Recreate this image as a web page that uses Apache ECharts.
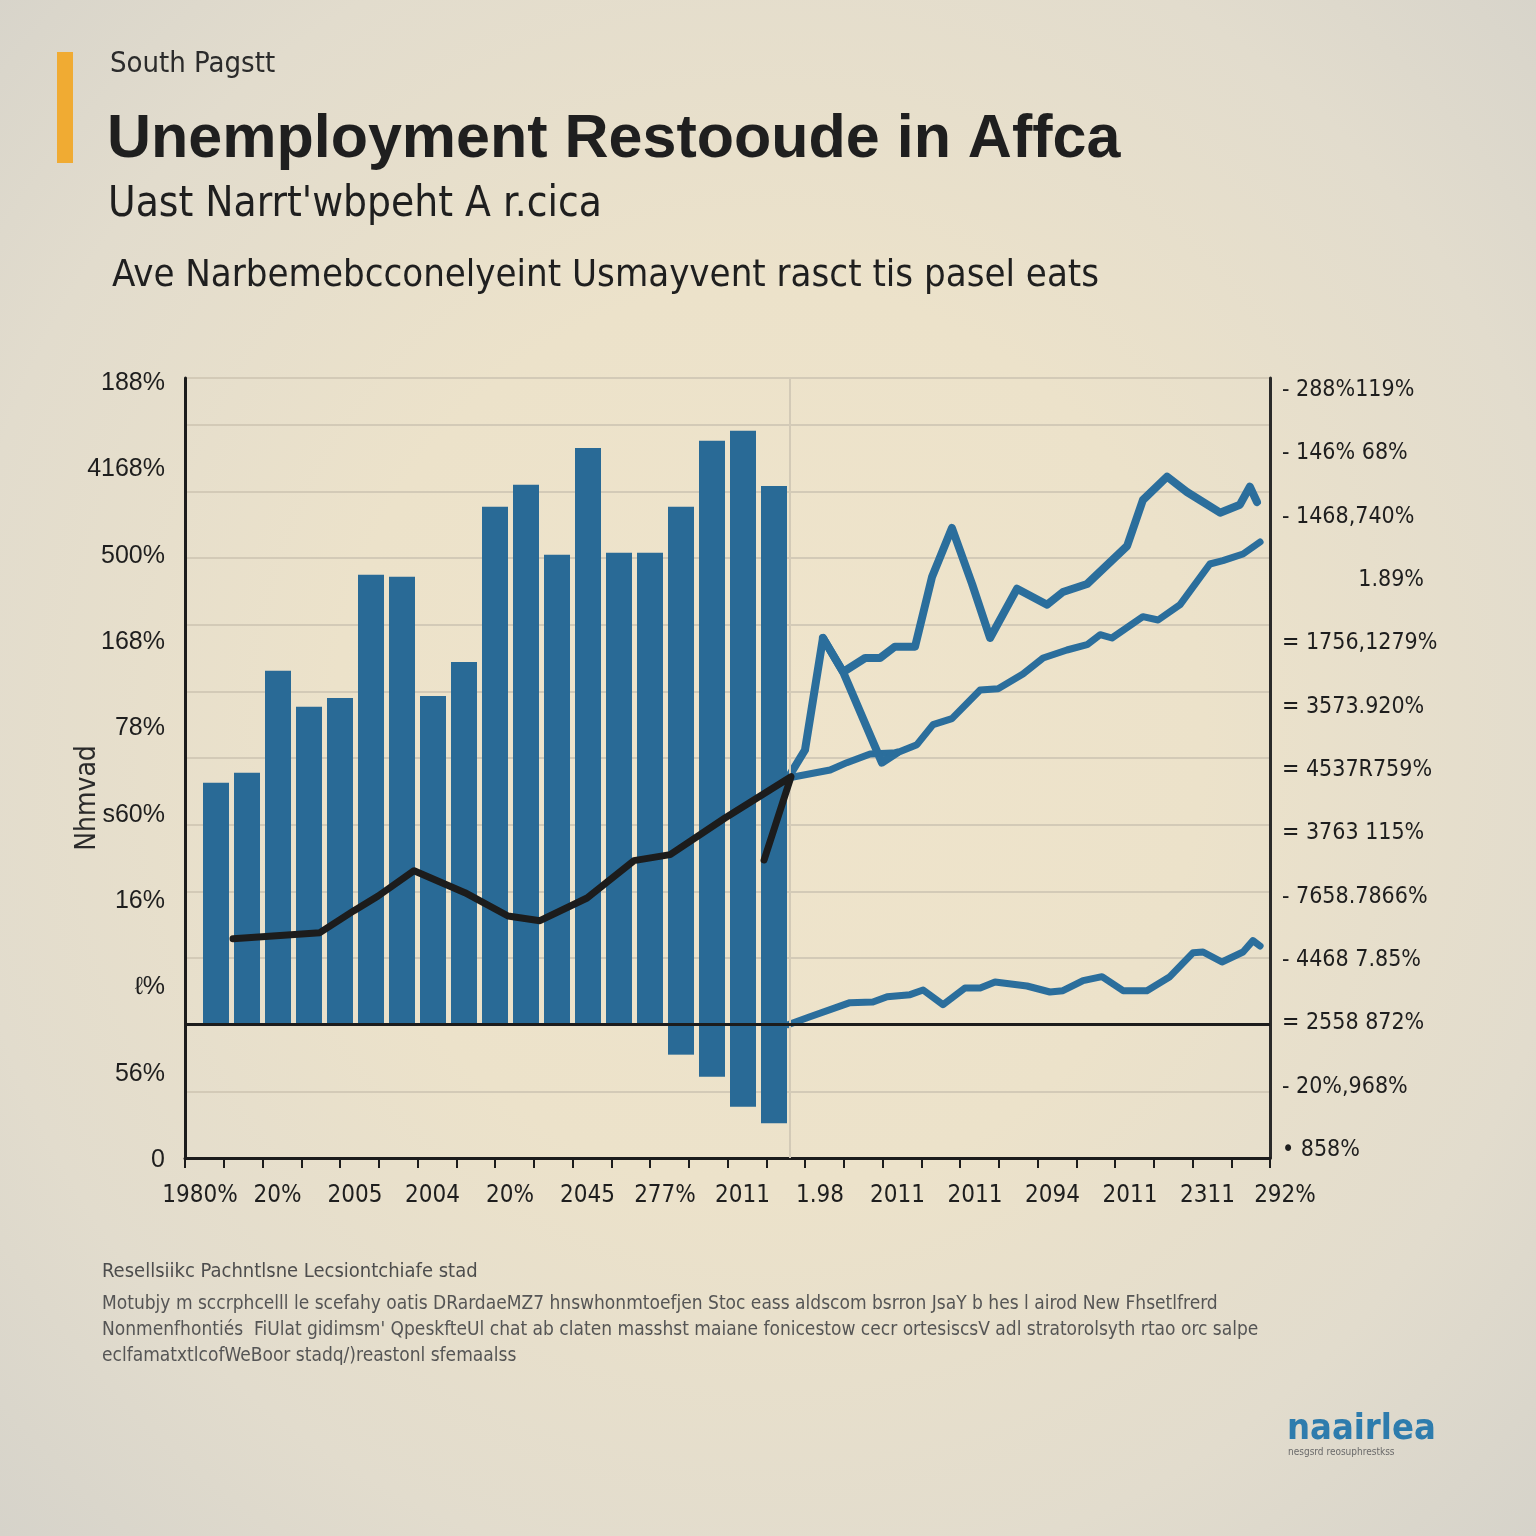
<!DOCTYPE html>
<html>
<head>
<meta charset="utf-8">
<script src="https://cdn.jsdelivr.net/npm/echarts@6/dist/echarts.min.js"></script>
<style>
html,body{margin:0;padding:0;width:1536px;height:1536px;overflow:hidden;
background:radial-gradient(ellipse at 50% 48%, #efe4cb 0%, #ece2ca 40%, #e2dccd 75%, #d6d3ca 100%);}
#chart{width:1536px;height:1536px;}
</style>
</head>
<body>
<div id="chart"></div>
<script>
// ---------- DATA ----------
const barPositions = [1,2,3,4,5,6,7,8,9,10,11,12,13,14,15,16,17,18,19];
const barValues = [36.3,37.8,53.1,47.7,49.0,67.5,67.2,49.3,54.4,77.7,81.0,70.5,86.5,70.8,70.8,77.7,87.6,89.1,80.8];
const negBarPositions = [16,17,18,19];
const negBarValues = [-4.5,-7.8,-12.3,-14.8];

const blackLine = [[1.55,12.9],[4.35,13.8],[5.45,17.1],[6.23,19.3],[7.39,23.1],[9.03,19.8],[10.42,16.3],[11.45,15.6],[12.97,19.0],[14.48,24.6],[15.65,25.5],[17.42,31.0],[19.55,37.2],[18.68,24.7]];
const upperLine = [[19.45,37.0],[20.0,41.2],[20.58,58.0],[21.23,52.9],[21.94,55.0],[22.42,55.0],[22.90,56.7],[23.55,56.7],[24.10,67.2],[24.74,74.5],[25.39,66.1],[25.97,58.0],[26.84,65.4],[27.81,63.0],[28.32,64.9],[29.10,66.1],[30.39,71.8],[30.90,78.7],[31.68,82.2],[32.32,79.9],[33.39,76.8],[34.03,78.0],[34.35,80.7],[34.58,78.4]];
const spikeDrop = [[20.58,58.0],[21.23,52.9],[22.48,39.3],[22.97,40.8]];
const middleLine = [[19.45,37.0],[20.81,38.2],[21.35,39.3],[22.10,40.6],[22.97,40.8],[23.61,42.0],[24.13,45.0],[24.74,45.9],[25.65,50.2],[26.23,50.4],[27.03,52.6],[27.68,55.0],[28.45,56.2],[29.10,57.0],[29.52,58.5],[29.90,58.0],[30.90,61.2],[31.39,60.7],[32.10,63.0],[33.06,69.1],[33.48,69.6],[34.13,70.6],[34.68,72.4]];
const lowerLine = [[19.45,0],[20.16,1.2],[21.45,3.3],[22.19,3.4],[22.65,4.2],[23.39,4.5],[23.81,5.2],[24.45,3.0],[25.16,5.5],[25.65,5.5],[26.13,6.4],[27.16,5.8],[27.90,4.9],[28.32,5.1],[28.97,6.6],[29.58,7.2],[30.26,5.1],[31.03,5.1],[31.77,7.2],[32.52,10.8],[32.84,10.9],[33.45,9.4],[34.13,10.9],[34.45,12.6],[34.68,11.8]];

const xTickLabels = ["1980%","20%","2005","2004","20%","2045","277%","2011","1.98","2011","2011","2094","2011","2311","292%"];
const leftTickLabels = ["0","56%","ℓ%","16%","s60%","78%","168%","500%","4168%","188%"];
const rightTickLabels = ["• 858%","- 20%,968%","= 2558 872%","- 4468 7.85%","- 7658.7866%","= 3763 115%","= 4537R759%","= 3573.920%","= 1756,1279%","1.89%","- 1468,740%","- 146% 68%","- 288%119%"];

const titleKicker = "South Pagstt";
const titleMain = "Unemployment Restooude in Affca";
const subtitle1 = "Uast Narrt'wbpeht A r.cica";
const subtitle2 = "Ave Narbemebcconelyeint Usmayvent rasct tis pasel eats";
const yAxisName = "Nhmvad";
const noteHead = "Resellsiikc Pachntlsne Lecsiontchiafe stad";
const noteLines = [
 "Motubjy m sccrphcelll le scefahy oatis DRardaeMZ7 hnswhonmtoefjen Stoc eass aldscom bsrron JsaY b hes l airod New Fhsetlfrerd",
 "Nonmenfhontiés  FiUlat gidimsm' QpeskfteUl chat ab claten masshst maiane fonicestow cecr ortesiscsV adl stratorolsyth rtao orc salpe",
 "eclfamatxtlcofWeBoor stadq/)reastonl sfemaalss"
];
const logoText = "naairlea";
const logoSub = "nesgsrd reosuphrestkss";

// ---------- CHART ----------
const NARROW = "'Liberation Sans Narrow','DejaVu Sans Condensed','Roboto Condensed',sans-serif";
const BLUE = '#296a96';
const LINEBLUE = '#2b6e9c';
const GRIDC = '#d3cab7';

const catData = [];
for (let i = 0; i < 29; i++) catData.push(i % 2 === 0 ? xTickLabels[i/2] : '');

const chart = echarts.init(document.getElementById('chart'), null, {renderer:'canvas'});
const option = {
  animation: false,
  backgroundColor: 'transparent',
  grid: [
    {left:185, right:266, top:378, bottom:378},
    {left:185, right:266, top:383, bottom:376},
    {left:185, right:266, top:390, bottom:386}
  ],
  xAxis: [
    {type:'value', gridIndex:0, min:0, max:35, position:'bottom',
     axisLine:{show:true, onZero:false, lineStyle:{color:'#1c1c1c', width:3}}, axisTick:{show:false}, axisLabel:{show:false}, splitLine:{show:false}},
    {type:'category', gridIndex:0, position:'bottom', boundaryGap:false, data:catData,
     axisLine:{show:false, onZero:false}, axisTick:{show:true, interval:0, length:10, lineStyle:{color:'#1c1c1c', width:2}},
     axisLabel:{interval:0, margin:26, fontSize:24, color:'#1e1e1e', fontFamily:NARROW, padding:[0,0,0,30]}, splitLine:{show:false}},
    {type:'value', gridIndex:1, show:false, min:0, max:1},
    {type:'value', gridIndex:2, show:false, min:0, max:1}
  ],
  yAxis: [
    {type:'value', gridIndex:0, position:'left', min:-20, max:97, interval:10,
     axisLine:{show:true, onZero:false, lineStyle:{color:'#1c1c1c', width:3}}, axisTick:{show:false}, axisLabel:{show:false},
     splitLine:{show:true, lineStyle:{color:GRIDC, width:2}}},
    {type:'value', gridIndex:0, position:'right', min:-20, max:97, interval:10,
     axisLine:{show:true, onZero:false, lineStyle:{color:'#2a2a2a', width:3}}, axisTick:{show:false}, axisLabel:{show:false}, splitLine:{show:false}},
    {type:'value', gridIndex:1, position:'left', min:0, max:9, interval:1,
     axisLine:{show:false}, axisTick:{show:false}, splitLine:{show:false},
     axisLabel:{margin:20, fontSize:25, color:'#1e1e1e', fontFamily:"'Liberation Sans','Arimo',sans-serif",
       formatter:(v)=> leftTickLabels[Math.round(v)] || ''}},
    {type:'value', gridIndex:2, position:'right', min:0, max:12, interval:1,
     axisLine:{show:false}, axisTick:{show:false}, splitLine:{show:false},
     axisLabel:{margin:12, fontSize:23, color:'#1e1e1e', fontFamily:NARROW,
       formatter:(v)=>{const i=Math.round(v); return i===9 ? '{r|'+rightTickLabels[i]+'}' : rightTickLabels[i];},
       rich:{r:{width:142, align:'right', fontSize:23, fontFamily:NARROW, color:'#1e1e1e'}}}}
  ],
  series: [
    {type:'line', xAxisIndex:0, yAxisIndex:0, data:[], z:1, silent:true,
     markLine:{symbol:'none', silent:true, label:{show:false}, lineStyle:{color:GRIDC, width:2, type:'solid'},
       data:[{xAxis:19.5}]}},
    {type:'bar', name:'pos', xAxisIndex:0, yAxisIndex:0, stack:'b', barWidth:26, z:2,
     itemStyle:{color:BLUE}, data: barPositions.map((x,i)=>[x, barValues[i]])},
    {type:'bar', name:'neg', xAxisIndex:0, yAxisIndex:0, stack:'b', barWidth:26, z:2,
     itemStyle:{color:BLUE}, data: negBarPositions.map((x,i)=>[x, negBarValues[i]]),
     markLine:{symbol:'none', silent:true, label:{show:false}, lineStyle:{color:'#1c1c1c', width:3, type:'solid'},
       data:[{yAxis:0}]}},
    {type:'line', xAxisIndex:0, yAxisIndex:0, data:lowerLine, symbol:'none', z:4,
     lineStyle:{color:LINEBLUE, width:7, cap:'round', join:'round'}},
    {type:'line', xAxisIndex:0, yAxisIndex:0, data:middleLine, symbol:'none', z:4,
     lineStyle:{color:LINEBLUE, width:7, cap:'round', join:'round'}},
    {type:'line', xAxisIndex:0, yAxisIndex:0, data:spikeDrop, symbol:'none', z:4,
     lineStyle:{color:LINEBLUE, width:8, cap:'round', join:'round'}},
    {type:'line', xAxisIndex:0, yAxisIndex:0, data:upperLine, symbol:'none', z:4,
     lineStyle:{color:LINEBLUE, width:8, cap:'round', join:'round'}},
    {type:'line', xAxisIndex:0, yAxisIndex:0, data:blackLine, symbol:'none', z:5,
     lineStyle:{color:'#1c1c1c', width:7, cap:'round', join:'round'}}
  ],
  graphic: [
    {type:'rect', shape:{x:57, y:52, width:16, height:111}, style:{fill:'#f0ab33'}},
    {type:'text', left:110, top:50, style:{text:titleKicker, fontSize:29, fontFamily:NARROW, fill:'#2b2b2b'}},
    {type:'text', left:107, top:110, style:{text:titleMain, fontSize:61, fontWeight:'bold', fontFamily:"'Liberation Sans','Arimo',sans-serif", fill:'#1f1f1f'}},
    {type:'text', left:108, top:184, style:{text:subtitle1, fontSize:42, fontFamily:NARROW, fill:'#1f1f1f'}},
    {type:'text', left:112, top:257, style:{text:subtitle2, fontSize:38, fontFamily:NARROW, fill:'#1f1f1f'}},
    {type:'text', x:88, y:798, rotation:Math.PI/2, style:{text:yAxisName, fontSize:28, fontFamily:NARROW, fill:'#2a2a2a', align:'center', verticalAlign:'middle'}},
    {type:'text', left:102, top:1262, style:{text:noteHead, fontSize:20, fontFamily:NARROW, fill:'#4d4d4d'}},
    {type:'text', left:102, top:1295, style:{text:noteLines[0], fontSize:19, fontFamily:NARROW, fill:'#555555'}},
    {type:'text', left:102, top:1321, style:{text:noteLines[1], fontSize:19, fontFamily:NARROW, fill:'#555555'}},
    {type:'text', left:102, top:1347, style:{text:noteLines[2], fontSize:19, fontFamily:NARROW, fill:'#555555'}},
    {type:'text', left:1287, top:1412, style:{text:logoText, fontSize:36, fontWeight:'bold', fontFamily:NARROW, fill:'#2e7cad'}},
    {type:'text', left:1288, top:1447, style:{text:logoSub, fontSize:10, fontFamily:NARROW, fill:'#6a6a6a'}}
  ]
};
chart.setOption(option);
</script>
</body>
</html>
